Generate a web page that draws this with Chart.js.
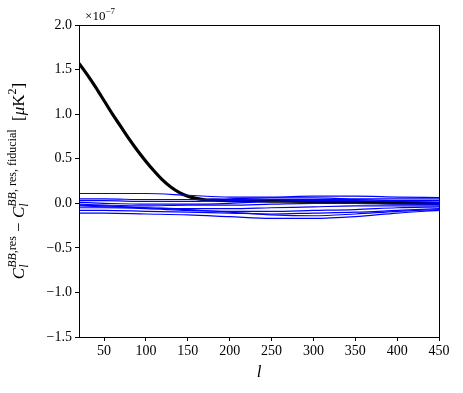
<!DOCTYPE html>
<html>
<head>
<meta charset="utf-8">
<script src="https://cdn.jsdelivr.net/npm/chart.js@4/dist/chart.umd.min.js"></script>
<style>
  html, body { margin: 0; padding: 0; background: #fff; }
</style>
</head>
<body>
<canvas id="resChart" width="463" height="393"></canvas>
<script>
// multipoles
const ells = [20, 50, 100, 150, 200, 250, 300, 350, 400, 450];
const ellsFid = [20, 30, 40, 50, 60, 70, 80, 90, 100, 110, 120, 130, 140, 150, 160, 170, 180, 200, 250, 300, 350, 400, 450];

// thick black curve (units of 1e-7 uK^2)
const fiducialDiff = [1.57, 1.44, 1.30, 1.15, 1.00, 0.86, 0.72, 0.59, 0.47, 0.36, 0.26, 0.18, 0.12, 0.08, 0.055, 0.04, 0.035, 0.03, 0.025, 0.02, 0.01, 0.005, 0.0];

// thin blue realisations
const real1 = [0.11, 0.11, 0.11, 0.09, 0.07, 0.07, 0.08, 0.08, 0.07, 0.065];
const real2 = [0.05, 0.05, 0.04, 0.04, 0.05, 0.06, 0.06, 0.05, 0.05, 0.05];
const real3 = [0.03, 0.03, 0.02, 0.02, 0.03, 0.04, 0.04, 0.04, 0.03, 0.03];
const real4 = [0.01, 0.0, -0.01, -0.01, 0.0, 0.02, 0.03, 0.03, 0.02, 0.01];
const real5 = [-0.01, -0.02, -0.03, -0.02, -0.02, -0.01, 0.0, 0.0, -0.01, -0.01];
const real6 = [-0.03, -0.04, -0.05, -0.06, -0.06, -0.05, -0.04, -0.03, -0.03, -0.03];
const real7 = [-0.05, -0.05, -0.06, -0.08, -0.09, -0.09, -0.08, -0.07, -0.05, -0.04];
const real8 = [-0.08, -0.08, -0.09, -0.10, -0.11, -0.12, -0.11, -0.10, -0.08, -0.06];
const real9 = [-0.11, -0.11, -0.12, -0.13, -0.15, -0.17, -0.17, -0.15, -0.11, -0.08];
const real10 = [-0.02, -0.03, -0.05, -0.07, -0.10, -0.13, -0.14, -0.12, -0.09, -0.07];
const realisations = [real1, real2, real3, real4, real5, real6, real7, real8, real9, real10];

const xTicks = [50, 100, 150, 200, 250, 300, 350, 400, 450];
const yTicks = [-1.5, -1.0, -0.5, 0.0, 0.5, 1.0, 1.5, 2.0];

const serif = 'Liberation Serif';
Chart.defaults.font.family = serif;

const datasets = realisations.map(r => ({
    data: r.map((v, i) => ({ x: ells[i], y: v })),
    borderColor: '#0000ff',
    borderWidth: 1.2,
    pointRadius: 0,
    cubicInterpolationMode: 'monotone'
}));
datasets.push({
    data: fiducialDiff.map((v, i) => ({ x: ellsFid[i], y: v })),
    borderColor: '#000000',
    borderWidth: 3.2,
    pointRadius: 0,
    cubicInterpolationMode: 'monotone'
});

// draw a row of text runs; a run with "hold" doesn't advance the pen
function drawRuns(ctx, runs, cx, cy) {
    let total = 0, held = 0;
    runs.forEach(r => {
        ctx.font = r.font;
        r.w = ctx.measureText(r.text).width;
        if (r.hold) { held = Math.max(held, r.w); }
        else { total += Math.max(r.w, held); held = 0; }
    });
    let x = cx - total / 2;
    held = 0;
    ctx.textBaseline = 'alphabetic';
    ctx.textAlign = 'left';
    runs.forEach(r => {
        ctx.font = r.font;
        ctx.fillText(r.text, x, cy + (r.dy || 0));
        if (r.hold) { held = Math.max(held, r.w); }
        else { x += Math.max(r.w, held); held = 0; }
    });
}

const labels = {
    id: 'labels',
    afterDraw(chart) {
        const { ctx, chartArea: a } = chart;
        ctx.save();
        ctx.fillStyle = '#000';
        ctx.strokeStyle = '#000';
        ctx.lineWidth = 1;
        ctx.strokeRect(a.left + 0.5, a.top + 0.5, a.right - a.left, a.bottom - a.top);
        // multiplier
        drawRuns(ctx, [
            { text: '×10', font: '13px ' + serif },
            { text: '−7', font: '9px ' + serif, dy: -6 }
        ], a.left + 21, a.top - 5);
        // x label
        drawRuns(ctx, [{ text: 'l', font: 'italic 17px ' + serif }], (a.left + a.right) / 2, 377);
        // y label
        ctx.translate(18, (a.top + a.bottom) / 2);
        ctx.rotate(-Math.PI / 2);
        const big = 'italic 17px ' + serif, rm = '17px ' + serif;
        const sm = '12px ' + serif, smi = 'italic 12px ' + serif;
        drawRuns(ctx, [
            { text: 'C', font: big },
            { text: 'l', font: smi, dy: 4, hold: true },
            { text: 'BB', font: smi, dy: -8 },
            { text: ',res', font: sm, dy: -8 },
            { text: ' − ', font: rm },
            { text: 'C', font: big },
            { text: 'l', font: smi, dy: 4, hold: true },
            { text: 'BB', font: smi, dy: -8 },
            { text: ', res, fiducial', font: sm, dy: -8 },
            { text: '  [', font: rm },
            { text: 'μ', font: big },
            { text: 'K', font: rm },
            { text: '2', font: sm, dy: -8 },
            { text: ']', font: rm }
        ], 0, 6);
        ctx.restore();
    }
};

new Chart(document.getElementById('resChart'), {
    type: 'line',
    data: { datasets },
    options: {
        responsive: false,
        animation: false,
        layout: { padding: { left: 0, top: 25, right: 24, bottom: 0 } },
        plugins: { legend: { display: false }, tooltip: { enabled: false } },
        scales: {
            x: {
                type: 'linear',
                min: 20,
                max: 450,
                afterBuildTicks: s => { s.ticks = xTicks.map(v => ({ value: v })); },
                afterFit: s => { s.height = 56; },
                grid: { drawOnChartArea: false, tickLength: 4, tickColor: '#000' },
                border: { color: '#000' },
                ticks: { color: '#000', padding: 2, maxRotation: 0, font: { family: serif, size: 14 } }
            },
            y: {
                min: -1.5,
                max: 2.0,
                afterBuildTicks: s => { s.ticks = yTicks.map(v => ({ value: v })); },
                afterFit: s => { s.width = 79; },
                grid: { drawOnChartArea: false, tickLength: 4, tickColor: '#000' },
                border: { color: '#000' },
                ticks: {
                    color: '#000', padding: 3, font: { family: serif, size: 14 },
                    callback: v => v.toFixed(1).replace('-', '−')
                }
            }
        }
    },
    plugins: [labels]
});
</script>
</body>
</html>
